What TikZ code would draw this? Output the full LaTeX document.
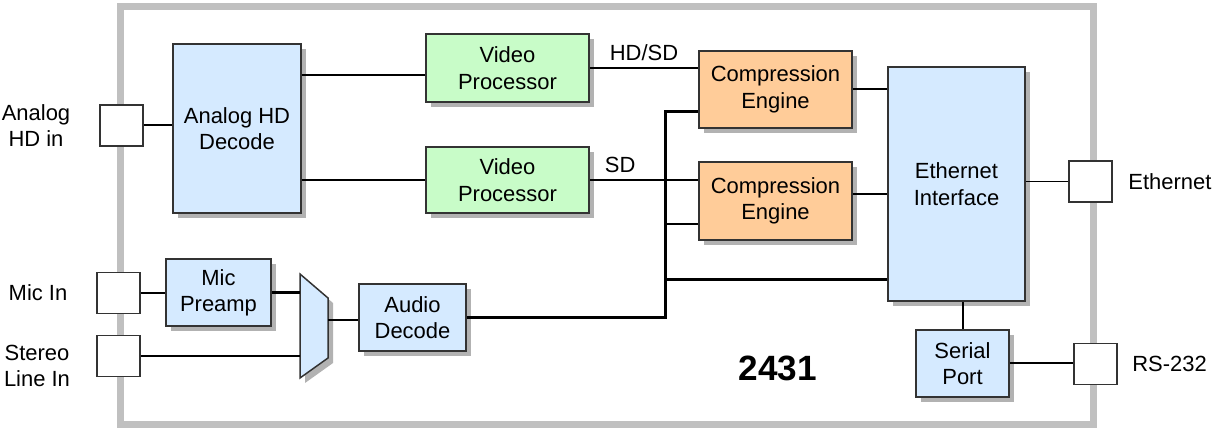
\documentclass[tikz,border=0pt]{standalone}
\usepackage{fontspec}
\setmainfont{Liberation Sans}
\usetikzlibrary{positioning,calc,shadows}
\definecolor{mBlueFill}{HTML}{D5EAFF}
\definecolor{mGreenFill}{HTML}{C8FCC8}
\definecolor{mOrangeFill}{HTML}{FFCC99}
\definecolor{mFrameGray}{HTML}{C0C0C0}
\definecolor{mEdge}{HTML}{333333}
\newlength\px
\setlength\px{0.02cm}
\tikzset{
  boxshadow/.style={drop shadow={shadow xshift=5\px, shadow yshift=-5\px, fill=black!30, opacity=1}},
  box/.style={draw=mEdge, line width=1.5\px, boxshadow, align=center, inner sep=0pt, font=\fontsize{12.5}{15}\selectfont},
  decbox/.style={box, fill=mBlueFill},
  procbox/.style={box, fill=mGreenFill},
  compbox/.style={box, fill=mOrangeFill},
  port/.style={draw=mEdge, fill=white, line width=1.5\px, minimum width=43\px, minimum height=41\px, inner sep=0pt},
  lbl/.style={align=center, inner sep=0pt, font=\fontsize{12.5}{15}\selectfont},
  wire/.style={line width=2\px, black},
  buswire/.style={line width=3\px, black}
}
\begin{document}
\begin{tikzpicture}[x=0.02cm, y=-0.02cm]
\useasboundingbox (0,0) rectangle (1215,432);
% enclosure
\draw[mFrameGray, line width=7\px] (120,7) rectangle (1093,425);

% video path
\node[port] (hdin) at (121.5,125.5) {};
\node[decbox, minimum width=128\px, minimum height=169\px] (hddec) at (237,128.5) {Analog HD\\Decode};
\node[procbox, minimum width=163\px, minimum height=68\px] (vp1) at (507.5,68) {Video\\Processor};
\node[procbox, minimum width=163\px, minimum height=66\px] (vp2) at (507.5,180) {Video\\Processor};
\node[compbox, minimum width=153\px, minimum height=77\px] (ce1) at (775.5,89.5) {Compression\\Engine};
\node[compbox, minimum width=153\px, minimum height=78\px] (ce2) at (775.5,201) {Compression\\Engine};
\node[decbox, minimum width=137\px, minimum height=234\px] (eth) at (956.5,184) {Ethernet\\Interface};
\node[port] (ethport) at (1090.5,181.5) {};
\node[decbox, minimum width=93\px, minimum height=67\px] (serial) at (962.5,363.5) {Serial\\Port};
\node[port] (rsport) at (1095.5,364) {};

% audio path
\node[port] (micport) at (118.5,293) {};
\node[port] (lineport) at (118.5,356) {};
\node[decbox, minimum width=105\px, minimum height=67\px] (preamp) at (218.5,292.5) {Mic\\Preamp};
\draw[draw=mEdge, fill=mBlueFill, line width=1.5\px, boxshadow] (300,274) -- (328,298) -- (328,358) -- (300,378) -- cycle;
\coordinate (muxin) at (300,326);
\coordinate (muxout) at (328,320);
\node[decbox, minimum width=107\px, minimum height=67\px] (audio) at (412.5,317.5) {Audio\\Decode};

% outside labels
\node[lbl] (hdinlbl) at (36,125.5) {Analog\\HD in};
\node[lbl] (miclbl) at (38,293) {Mic In};
\node[lbl] (linelbl) at (37,366) {Stereo\\Line In};
\node[lbl, anchor=west] (ethlbl) at (1128,182) {Ethernet};
\node[lbl, anchor=west] (rslbl) at (1132,364) {RS-232};
\node[font=\fontsize{20}{24}\selectfont\bfseries] (model) at (778,368) {2431};

% connections
\coordinate (vp1in) at ([yshift=-7\px]vp1.west);
\coordinate (c1bus) at ([yshift=-22\px]ce1.west);
\coordinate (c2bus) at ([yshift=-23\px]ce2.west);
\coordinate (ethbus) at ([yshift=-96\px]eth.west);
\coordinate (c2out) at ([yshift=7\px]ce2.east);
\coordinate (bus) at (665,321);
\draw[wire] (hdin.east) -- (hdin.east -| hddec.west);
\draw[wire] (vp1in -| hddec.east) -- (vp1in);
\draw[wire] (hddec.east |- vp2.west) -- (vp2.west);
\draw[wire] (vp1.east) -- node[above, font=\fontsize{12.5}{15}\selectfont]{HD/SD} (vp1.east -| ce1.west);
\draw[wire] (vp2.east) -- node[above, pos=0.28, font=\fontsize{12.5}{15}\selectfont]{SD} (vp2.east -| ce2.west);
\draw[buswire] (audio.east) -| (bus |- c1bus) -- (c1bus);
\draw[wire] (bus |- c2bus) -- (c2bus);
\draw[buswire] (bus |- ethbus) -- (ethbus);
\draw[wire] (ce1.east) -- (ce1.east -| eth.west);
\draw[wire] (c2out) -- (c2out -| eth.west);
\draw[line width=1.2\px] (eth.east |- ethport.west) -- (ethport.west);
\draw[wire] (serial.north) -- (serial.north |- eth.south);
\draw[wire] (serial.east) -- (serial.east -| rsport.west);
\draw[wire] (micport.east) -- (micport.east -| preamp.west);
\draw[buswire] (preamp.east) -- (preamp.east -| muxin);
\draw[wire] (lineport.east) -- (lineport.east -| muxin);
\draw[wire] (muxout) -- (muxout -| audio.west);
\end{tikzpicture}
\end{document}
